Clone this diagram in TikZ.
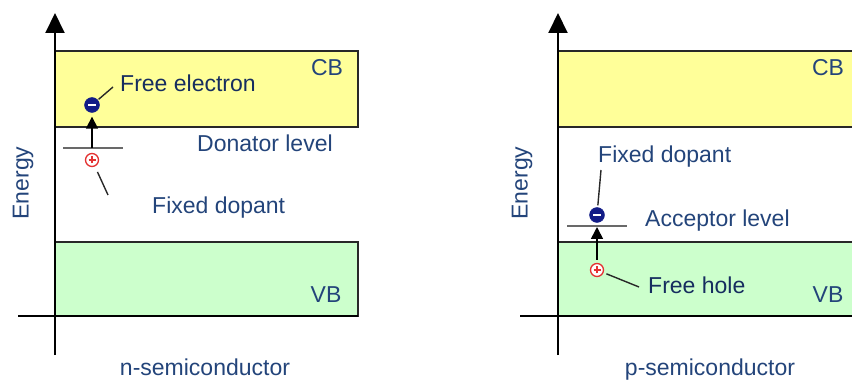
\documentclass[tikz,border=0pt]{standalone}
\usepackage{fontspec}
\setmainfont{Liberation Sans}
\usetikzlibrary{arrows.meta}
\definecolor{cbfill}{RGB}{255,255,153}
\definecolor{vbfill}{RGB}{204,255,204}
\definecolor{txt}{RGB}{35,68,122}
\definecolor{txtdark}{RGB}{22,45,95}
\definecolor{edge}{RGB}{40,40,40}
\definecolor{levelc}{RGB}{105,105,105}
\definecolor{elec}{RGB}{18,28,135}
\definecolor{holec}{RGB}{228,50,50}
\tikzset{
  lbl/.style={text=txt, inner sep=0pt, font=\fontsize{23}{23}\selectfont},
  lbldark/.style={text=txtdark, inner sep=0pt, font=\fontsize{23}{23}\selectfont},
  band/.style={draw=edge, line width=1.8pt},
  axis/.style={draw=black, line width=2pt},
  axisarrow/.style={axis, -{Triangle[length=20pt,width=19pt]}},
  level/.style={draw=levelc, line width=2pt},
  jump/.style={draw=black, line width=1.6pt, -{Triangle[length=12pt,width=12pt]}},
  leader/.style={draw=edge, line width=1.4pt},
  electron/.style={circle, fill=elec, draw=elec, minimum size=15pt, inner sep=0pt,
    path picture={\fill[white] ([xshift=-4pt,yshift=-1.2pt]path picture bounding box.center) rectangle ([xshift=4pt,yshift=1.2pt]path picture bounding box.center);}},
  hole/.style={circle, fill=white, draw=holec, line width=1.3pt, minimum size=13pt, inner sep=0pt,
    path picture={\draw[holec, line width=1.2pt] ([xshift=-3.5pt]path picture bounding box.center) -- ([xshift=3.5pt]path picture bounding box.center)
      ([yshift=-3.5pt]path picture bounding box.center) -- ([yshift=3.5pt]path picture bounding box.center);}},
}
\begin{document}
\begin{tikzpicture}[x=1pt,y=-1pt]
\useasboundingbox (0,0) rectangle (852,382);
% ---------------- left panel (n) ----------------
\path[band, fill=cbfill] (55,51) rectangle (358,127);
\path[band, fill=vbfill] (55,242) rectangle (358,316);
\coordinate (nAxB) at (55,355);
\coordinate (nAxT) at (55,13);
\coordinate (nAxL) at (18,316);
\coordinate (nAxR) at (358,316);
\draw[axisarrow] (nAxB) -- (nAxT);
\draw[axis] (nAxL) -- (nAxR);
\node[lbl] (nCB) at (327,68) {CB};
\node[lbl] (nVB) at (326,295) {VB};
\node[lbl, rotate=90] (nEn) at (23,183) {Energy};
\node[lbl, anchor=base] (nName) at (205,375) {n-semiconductor};
\coordinate (dL) at (63,148);
\coordinate (dR) at (123,148);
\coordinate (dM) at (92,148);
\draw[level] (dL) -- (dR);
\node[electron] (nE) at (92,105) {};
\node[hole] (nH) at (92,160) {};
\draw[jump, shorten >=4pt] (dM) -- (nE);
\node[lbldark, anchor=west] (nFE) at (120,83) {Free electron};
\coordinate (nFEl) at (113,87);
\draw[leader, shorten <=1pt] (nE) -- (nFEl);
\node[lbl, anchor=west] (nDon) at (197,143) {Donator level};
\node[lbl, anchor=west] (nFD) at (152,208) {Fixed dopant};
\coordinate (nFDl) at (108,195);
\draw[leader, shorten <=6pt] (nH) -- (nFDl);
% ---------------- right panel (p) ----------------
\path[band, fill=cbfill] (558,51) rectangle (860,127);
\path[band, fill=vbfill] (558,242) rectangle (860,316);
\coordinate (pAxB) at (558,355);
\coordinate (pAxT) at (558,13);
\coordinate (pAxL) at (520,316);
\coordinate (pAxR) at (860,316);
\draw[axisarrow] (pAxB) -- (pAxT);
\draw[axis] (pAxL) -- (pAxR);
\node[lbl] (pCB) at (828,68) {CB};
\node[lbl] (pVB) at (828,295) {VB};
\node[lbl, rotate=90] (pEn) at (522,183) {Energy};
\node[lbl, anchor=base] (pName) at (710,375) {p-semiconductor};
\coordinate (aL) at (567,226);
\coordinate (aR) at (627,226);
\coordinate (aM) at (597,227);
\draw[level] (aL) -- (aR);
\node[electron] (pE) at (597,215) {};
\node[hole] (pH) at (597,270) {};
\draw[jump, shorten <=3pt] (pH) -- (aM);
\node[lbl, anchor=west] (pFD) at (598,157) {Fixed dopant};
\coordinate (pFDl) at (601,170);
\draw[leader, shorten >=2pt] (pFDl) -- (pE);
\node[lbl, anchor=west] (pAcc) at (645,221) {Acceptor level};
\node[lbldark, anchor=west] (pFH) at (648,285) {Free hole};
\coordinate (pFHl) at (639,287);
\draw[leader, shorten <=3pt] (pH) -- (pFHl);
\end{tikzpicture}
\end{document}
